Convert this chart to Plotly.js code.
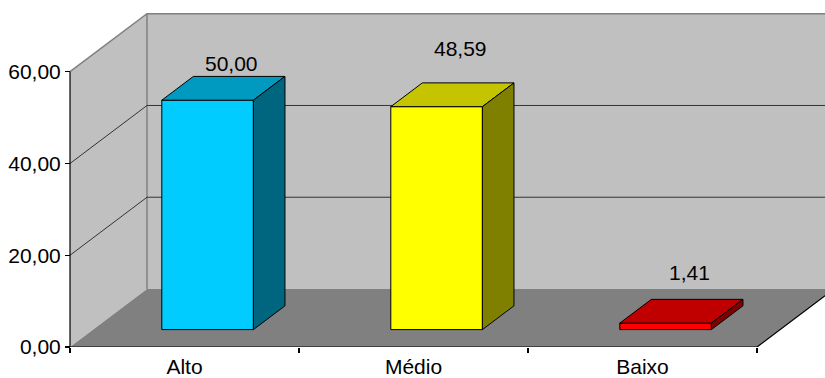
<!DOCTYPE html>
<html>
<head>
<meta charset="utf-8">
<script src="https://cdn.plot.ly/plotly-3.0.1.min.js"></script>
<style>html,body{margin:0;padding:0;background:#fff;}#chart{width:825px;height:378px;}</style>
</head>
<body>
<div id="chart"></div>
<script>
// ---- data ----
const categories = ['Alto', 'Médio', 'Baixo'];
const values = [50.00, 48.59, 1.41];
const yTickVals = [0, 20, 40, 60];
const yTickText = ['0,00', '20,00', '40,00', '60,00'];

// ---- style / geometry ----
const frontColors = ['#00CCFF', '#FFFF00', '#FF0000'];
const topColors   = ['#0099C0', '#C4C400', '#C00000'];
const sideColors  = ['#00667F', '#808000', '#800000'];
const labelShift  = [19, 40, 33];   // px, label offset above bar top
const PX_PER_CAT = 229, PX_PER_UNIT = 4.588;
const DX = 77 / PX_PER_CAT;          // depth offset in category units
const DY = 58 / PX_PER_UNIT;         // depth offset in value units
const N = categories.length;
const YMAX = 60;
const barHalf = 0.2, d1 = 0.30, d2 = 0.71, labelDepth = 0.61;
const FONT = 'Liberation Sans, Arial, sans-serif';
const FS = 21;

const traces = [];
function poly(xs, ys, fill, lineColor, lineWidth) {
  traces.push({
    type: 'scatter', mode: 'lines', x: xs.concat([xs[0]]), y: ys.concat([ys[0]]),
    fill: 'toself', fillcolor: fill,
    line: {color: lineColor || fill, width: lineColor ? (lineWidth || 1) : 0},
    hoverinfo: 'skip', showlegend: false
  });
}
function seg(xs, ys, color, width) {
  traces.push({type: 'scatter', mode: 'lines', x: xs, y: ys,
    line: {color: color, width: width}, hoverinfo: 'skip', showlegend: false});
}

// walls and floor
poly([DX, N + DX + 1, N + DX + 1, DX], [DY, DY, YMAX + DY, YMAX + DY], '#C0C0C0');
poly([0, DX, DX, 0], [0, DY, YMAX + DY, YMAX], '#C0C0C0');
poly([0, N, N + DX, DX], [0, 0, DY, DY], '#808080');
// wall edges
seg([0, DX, N + DX + 1], [YMAX, YMAX + DY, YMAX + DY], '#808080', 1.5);
seg([DX, DX], [DY, YMAX + DY], '#808080', 1.5);
// gridlines
yTickVals.filter(v => v > 0 && v < YMAX).forEach(v => {
  seg([0, DX, N + DX + 1], [v, v + DY, v + DY], '#333333', 1);
});
// floor front & right edges, y axis line
seg([0, N, N + DX], [0, 0, DY], '#000000', 1.2);
seg([0, 0], [0, YMAX], '#000000', 1.2);

// bars
values.forEach((v, i) => {
  const c = i + 0.5;
  const x0 = c - barHalf, x1 = c + barHalf;
  const fx0 = x0 + d1 * DX, fx1 = x1 + d1 * DX, fy = d1 * DY;
  const bx0 = x0 + d2 * DX, bx1 = x1 + d2 * DX, by = d2 * DY;
  poly([fx0, fx1, fx1, fx0], [fy, fy, v + fy, v + fy], frontColors[i], '#000000', 1);
  poly([fx0, fx1, bx1, bx0], [v + fy, v + fy, v + by, v + by], topColors[i], '#000000', 1);
  poly([fx1, bx1, bx1, fx1], [fy, by, v + by, v + fy], sideColors[i], '#000000', 1);
});

const annotations = values.map((v, i) => ({
  x: i + 0.5 + labelDepth * DX, y: v + labelDepth * DY,
  xref: 'x', yref: 'y', showarrow: false,
  text: v.toFixed(2).replace('.', ','),
  yshift: labelShift[i], yanchor: 'middle', xanchor: 'center',
  font: {family: FONT, size: FS, color: '#000000'}
}));

const L = 66, W = 825, H = 378, B = 31;
const layout = {
  width: W, height: H,
  margin: {l: L, r: 0, t: 0, b: B, pad: 0},
  paper_bgcolor: '#ffffff', plot_bgcolor: '#ffffff',
  showlegend: false,
  xaxis: {
    range: [-(70 - L) / PX_PER_CAT, (W - 70) / PX_PER_CAT],
    tickvals: categories.map((_, i) => i + 0.5), ticktext: categories,
    ticks: '', showgrid: false, zeroline: false, showline: false,
    ticklabelstandoff: 5,
    tickfont: {family: FONT, size: FS, color: '#000000'},
    minor: {tickvals: [0, 1, 2, 3], ticks: 'outside', ticklen: 5, tickcolor: '#000000', tickwidth: 1.2, showgrid: false},
    fixedrange: true
  },
  yaxis: {
    range: [0, (H - B) / PX_PER_UNIT],
    anchor: 'free', position: (70 - L) / (W - L),
    tickvals: yTickVals, ticktext: yTickText,
    ticks: 'outside', ticklen: 5, tickcolor: '#000000', tickwidth: 1.2,
    showgrid: false, zeroline: false, showline: false,
    tickfont: {family: FONT, size: FS, color: '#000000'},
    fixedrange: true
  },
  annotations: annotations
};

Plotly.newPlot('chart', traces, layout, {staticPlot: true, displayModeBar: false});
</script>
</body>
</html>
